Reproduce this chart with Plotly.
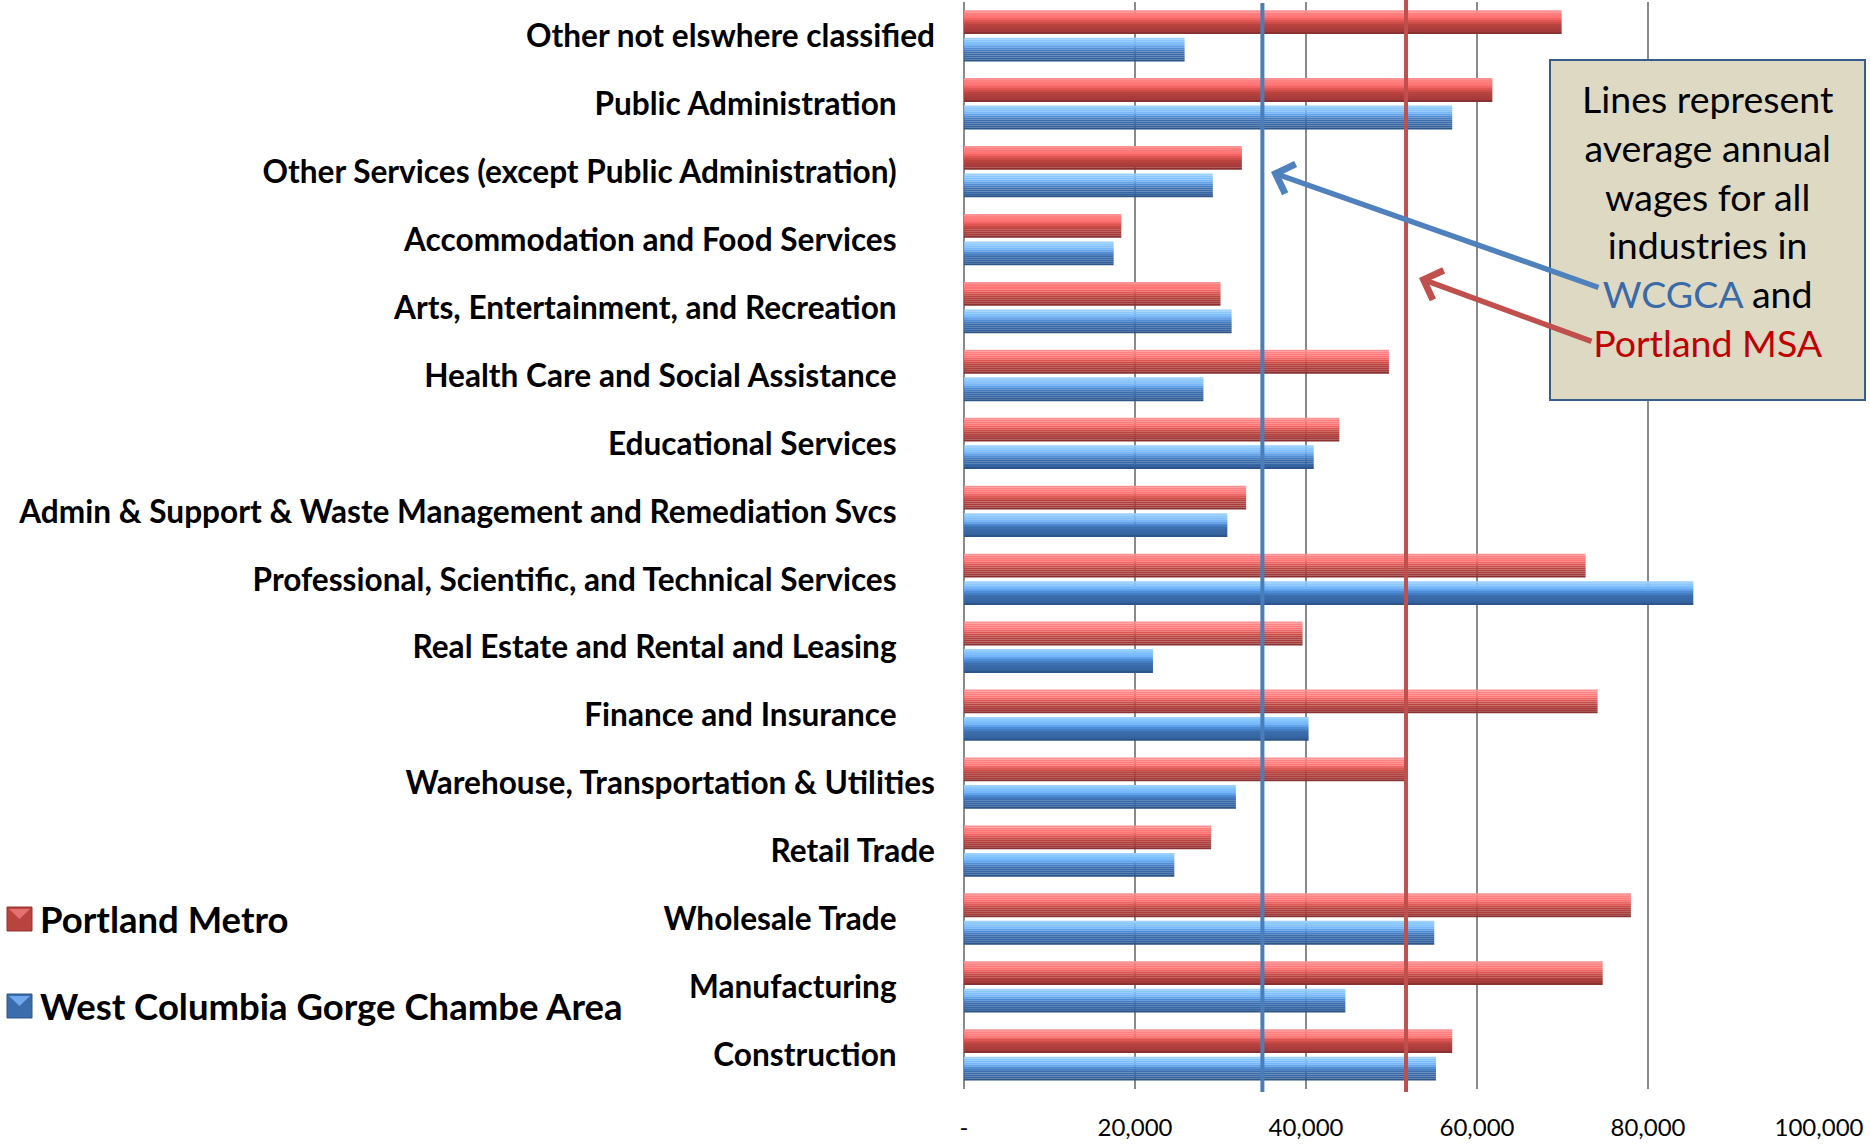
import plotly.graph_objects as go

# ---------------- data ----------------
categories = [
    "Other not elswhere classified",
    "Public Administration",
    "Other Services (except Public Administration)",
    "Accommodation and Food Services",
    "Arts, Entertainment, and Recreation",
    "Health Care and Social Assistance",
    "Educational Services",
    "Admin & Support & Waste Management and Remediation Svcs",
    "Professional, Scientific, and Technical Services",
    "Real Estate and Rental and Leasing",
    "Finance and Insurance",
    "Warehouse, Transportation & Utilities",
    "Retail Trade",
    "Wholesale Trade",
    "Manufacturing",
    "Construction",
]
portland_metro = [69900, 61800, 32500, 18400, 30000, 49700, 43900, 33000,
                  72700, 39600, 74100, 51900, 28900, 78000, 74700, 57100]
wcgca = [25800, 57100, 29100, 17500, 31300, 28000, 40900, 30800,
         85300, 22100, 40300, 31800, 24600, 55000, 44600, 55200]
avg_wcgca = 34900
avg_portland = 51700
series_names = ["Portland Metro", "West Columbia Gorge Chambe Area"]
x_tickvals = [0, 20000, 40000, 60000, 80000, 100000]
x_ticktext = ["-", "20,000", "40,000", "60,000", "80,000", "100,000"]

# labels that sit flush against the axis (the rest are indented)
flush_labels = {"Other not elswhere classified",
                "Warehouse, Transportation & Utilities", "Retail Trade"}

# ---------------- layout geometry ----------------
W, H = 1870, 1144
L, R, T, B = 964, 51, 2, 55
PW, PH = W - L - R, H - T - B


def pxx(x):
    return (x - L) / PW


def pxy(y):
    return (H - B - y) / PH


FONT = "Lato, Roboto, Arial, sans-serif"


def hex2rgb(h):
    h = h.lstrip("#")
    return tuple(int(h[i:i + 2], 16) for i in (0, 2, 4))


def shade(stops, f):
    for (a, ca), (b, cb) in zip(stops[:-1], stops[1:]):
        if a <= f <= b:
            t = (f - a) / (b - a) if b > a else 0
            c1, c2 = hex2rgb(ca), hex2rgb(cb)
            return "rgb(%d,%d,%d)" % tuple(round(x + (y - x) * t) for x, y in zip(c1, c2))
    return stops[-1][1]


red_stops = [(0.0, "#f2a2a2"), (0.08, "#ff8484"), (0.30, "#ff7272"),
             (0.46, "#e05652"), (0.62, "#b9443f"), (0.90, "#a2393a"),
             (1.0, "#7c2b2a")]
blue_stops = [(0.0, "#acd6ff"), (0.08, "#8ccaff"), (0.30, "#74b6fa"),
              (0.46, "#4d8cd6"), (0.62, "#3c6eae"), (0.90, "#34629e"),
              (1.0, "#274b7a")]
NB = 12

fig = go.Figure()
bar_specs = [(portland_metro, -0.38, 0.35, red_stops),
             (wcgca, 0.025, 0.35, blue_stops)]
for vals, off, h, stops in bar_specs:
    for k in range(NB):
        f0, f1 = k / NB, (k + 1) / NB
        fig.add_trace(go.Bar(
            x=vals, y=categories, orientation="h",
            offset=off + f0 * h, width=(f1 - f0) * h * 1.02,
            marker=dict(color=shade(stops, (f0 + f1) / 2), line=dict(width=0)),
            showlegend=False, hoverinfo="skip"))

ticktext = [c if c in flush_labels else c + "\u00a0" * 5 for c in categories]

fig.update_layout(
    width=W, height=H,
    margin=dict(l=L, r=R, t=T, b=B, autoexpand=False),
    paper_bgcolor="white", plot_bgcolor="white",
    barmode="overlay",
    showlegend=False,
    xaxis=dict(range=[0, 100000], tickmode="array", tickvals=x_tickvals,
               ticktext=x_ticktext, showgrid=True, gridcolor="#8a8a8a",
               gridwidth=1.5, zeroline=True, zerolinecolor="#8a8a8a",
               zerolinewidth=1.5, showline=False, ticks="",
               ticklabelstandoff=22,
               tickfont=dict(family=FONT, size=24, color="black")),
    yaxis=dict(type="category", categoryorder="array",
               categoryarray=categories, range=[15.5, -0.5],
               tickmode="array", tickvals=categories, ticktext=ticktext,
               showgrid=False, zeroline=False, showline=False, ticks="",
               ticklabelstandoff=28,
               tickfont=dict(family=FONT, size=31.6, color="black",
                             weight="bold")),
)

# average wage lines
fig.add_shape(type="line", xref="x", yref="paper", x0=avg_wcgca, x1=avg_wcgca,
              y0=pxy(1092), y1=pxy(3), line=dict(color="#4a7ebb", width=4),
              layer="above")
fig.add_shape(type="line", xref="x", yref="paper", x0=avg_portland,
              x1=avg_portland, y0=pxy(1092), y1=pxy(0),
              line=dict(color="#c0504d", width=4), layer="above")

# explanatory box
fig.add_shape(type="rect", xref="paper", yref="paper",
              x0=pxx(1550), x1=pxx(1865), y0=pxy(400), y1=pxy(60),
              fillcolor="#ddd9c3", line=dict(color="#385d8a", width=2),
              layer="above")
fig.add_annotation(
    xref="paper", yref="paper", x=pxx(1708), y=pxy(220),
    xanchor="center", yanchor="middle", showarrow=False, align="center",
    text=("Lines represent<br>average annual<br>wages for all<br>industries in<br>"
          "<span style='color:#3a6aa8'>WCGCA</span> and<br>"
          "<span style='color:#c00000'>Portland MSA</span>"),
    font=dict(family=FONT, size=37.5, color="black"))

# arrows
fig.add_annotation(xref="paper", yref="paper", x=pxx(1271), y=pxy(172),
                   ax=329, ay=116, text="", showarrow=True, arrowhead=4,
                   arrowsize=1.1, arrowwidth=5.5, arrowcolor="#4f81bd")
fig.add_annotation(xref="paper", yref="paper", x=pxx(1419), y=pxy(278),
                   ax=174, ay=64, text="", showarrow=True, arrowhead=4,
                   arrowsize=1.1, arrowwidth=5.5, arrowcolor="#c0504d")

# legend (manual)
legend_items = [(series_names[0], 919, "#b8433f", "#e57070", "#8f3533"),
                (series_names[1], 1006, "#3b6cab", "#6fa8ec", "#2e5789")]
for name, yc, base, light, edge in legend_items:
    ytop = yc - 12
    fig.add_shape(type="rect", xref="paper", yref="paper",
                  x0=pxx(7), x1=pxx(32), y0=pxy(ytop + 24), y1=pxy(ytop),
                  fillcolor=base, line=dict(color=edge, width=1))
    fig.add_shape(type="path", xref="paper", yref="paper",
                  path=(f"M {pxx(9)} {pxy(ytop + 2)} L {pxx(30)} {pxy(ytop + 2)} "
                        f"L {pxx(19.5)} {pxy(ytop + 12)} Z"),
                  fillcolor=light, line=dict(width=0))
    fig.add_annotation(xref="paper", yref="paper", x=pxx(38), y=pxy(yc),
                       xanchor="left", yanchor="middle", showarrow=False,
                       text=name,
                       font=dict(family=FONT, size=36.5, color="black",
                                 weight="bold"))

fig.write_html("out.html", config={"displayModeBar": False},
               post_script="document.body.style.margin='0';"
                           "document.body.style.overflow='hidden';")
